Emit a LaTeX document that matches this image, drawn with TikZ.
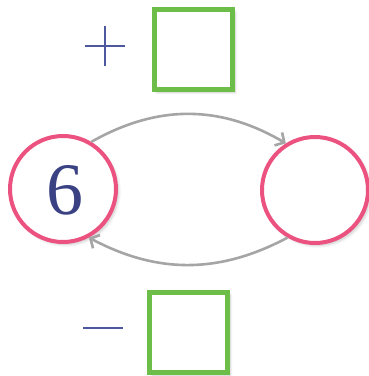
\documentclass[tikz,border=0pt]{standalone}
\usepackage{fontspec}
\newfontfamily\digitfont{Liberation Serif}
\usetikzlibrary{arrows.meta,shadows.blur}
\definecolor{boxgreen}{RGB}{108,190,72}
\definecolor{ringpink}{RGB}{236,82,128}
\definecolor{arcgray}{RGB}{165,165,165}
\definecolor{signblue}{RGB}{78,88,158}
\definecolor{digitblue}{RGB}{58,66,132}
\tikzset{
  softshadow/.style={blur shadow={shadow xshift=2.5pt,shadow yshift=-2.5pt,shadow blur steps=6,shadow opacity=22,shadow blur radius=3pt}},
  answerbox/.style={draw=boxgreen,line width=5pt,fill=white,minimum width=78pt,minimum height=80pt,inner sep=0pt,softshadow},
  ring/.style={circle,draw=ringpink,line width=4pt,fill=white,minimum size=106pt,inner sep=0pt,softshadow},
  flow/.style={draw=arcgray,line width=2.6pt,-{Straight Barb[length=7pt,width=15pt,line width=2.6pt]}},
  sign/.style={draw=signblue,line width=2pt},
  digit/.style={text=digitblue,font=\digitfont\fontsize{74}{74}\selectfont,inner sep=0pt}
}
\begin{document}
\begin{tikzpicture}[x=1pt,y=-1pt]
\useasboundingbox (0,0) rectangle (369,376);
\node[answerbox] (top) at (193.5,49.5) {};
\node[answerbox] (bottom) at (188.5,332.5) {};
\node[ring] (L) at (63,189) {};
\node[ring] (R) at (315,190) {};
\node[digit] (six) at (65,190) {6};
\draw[flow] (L.59) to[bend left=30] (R.122);
\draw[flow] (R.240) to[bend left=28] (L.298);
\draw[sign] (85,46) -- (125,46) (105,26) -- (105,66);
\draw[sign] (83,328) -- (123,328);
\end{tikzpicture}
\end{document}
